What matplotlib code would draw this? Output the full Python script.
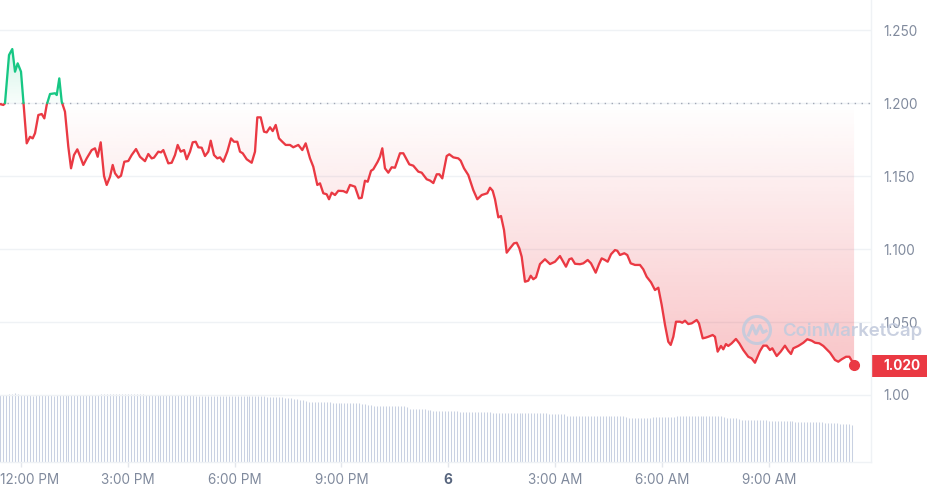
import numpy as np
import matplotlib
matplotlib.use('Agg')
import matplotlib.pyplot as plt
from matplotlib.path import Path
from matplotlib.patches import Rectangle, Circle
from matplotlib.lines import Line2D
import matplotlib.transforms as mtransforms
from matplotlib.colors import to_rgb

plt.rcParams['font.family'] = ['Inter', 'DejaVu Sans']

# ---------------- data ----------------
# minutes relative to 12:00 PM
MINUTES = np.array([
    -35.4, -29.8, -27.0, -20.2, -14.7, -10.1, -5.6, 0.0, 9.6, 15.2,
    19.7, 23.6, 29.2, 34.9, 39.3, 43.3, 48.9, 57.3, 60.2, 64.5,
    68.6, 74.1, 79.7, 84.3, 89.3, 94.9, 99.4, 105.0, 110.7, 119.1,
    124.7, 129.2, 134.3, 139.9, 144.4, 150.0, 154.5, 158.4, 164.0, 168.5,
    174.1, 180.8, 186.5, 193.8, 200.5, 208.9, 214.5, 220.2, 224.1, 231.4,
    235.9, 239.8, 248.2, 253.9, 259.5, 264.0, 269.1, 274.7, 279.2, 284.8,
    289.3, 294.4, 298.8, 304.5, 310.0, 315.6, 319.7, 325.2, 330.8, 335.3,
    340.9, 347.6, 353.9, 358.9, 364.5, 369.0, 373.6, 380.3, 388.7, 394.3,
    398.2, 403.9, 409.5, 414.0, 419.6, 424.1, 429.2, 434.7, 440.3, 446.0,
    453.3, 458.8, 467.3, 474.0, 479.7, 487.0, 492.5, 499.3, 503.8, 509.4,
    515.1, 519.0, 523.5, 529.1, 534.7, 543.1, 548.8, 554.4, 562.8, 569.5,
    574.1, 579.6, 584.2, 589.8, 593.6, 601.0, 604.9, 608.8, 613.3, 618.9,
    624.6, 630.2, 638.6, 644.2, 654.3, 661.0, 669.5, 675.2, 683.6, 689.2,
    694.8, 700.5, 704.9, 709.9, 717.3, 721.7, 728.5, 736.9, 740.9, 746.5,
    753.7, 762.1, 768.9, 776.3, 781.8, 785.7, 790.3, 794.8, 798.7, 804.3,
    808.8, 813.9, 818.4, 824.0, 830.7, 835.3, 839.7, 843.7, 849.2, 854.8,
    858.9, 863.2, 867.8, 874.5, 882.9, 891.4, 899.8, 908.2, 918.3, 923.9,
    927.9, 933.5, 941.9, 947.5, 954.9, 960.5, 968.4, 974.0, 978.5, 984.0,
    988.6, 994.2, 1000.9, 1004.8, 1009.3, 1016.6, 1021.6, 1027.4, 1034.6, 1043.0,
    1048.6, 1054.3, 1061.6, 1068.3, 1073.9, 1079.6, 1085.2, 1090.7, 1094.8, 1099.2,
    1103.7, 1110.4, 1114.3, 1118.9, 1124.4, 1130.2, 1138.6, 1142.4, 1148.7, 1153.7,
    1158.1, 1165.5, 1169.4, 1173.9, 1179.5, 1183.4, 1187.9, 1191.8, 1197.5, 1204.7,
    1210.4, 1217.1, 1225.5, 1231.2, 1236.8, 1245.2, 1250.8, 1256.5, 1262.1, 1266.0,
    1273.4, 1280.1, 1287.3, 1292.9, 1297.5, 1301.4, 1309.8, 1318.3, 1325.0, 1332.4,
    1338.0, 1345.2, 1352.0, 1357.7, 1363.2, 1371.6, 1377.2, 1383.0, 1390.2, 1395.8,
    1399.9, 1403.8,
])

PRICES = np.array([
    1.1993, 1.1987, 1.1998, 1.2329, 1.2370, 1.2215, 1.2272, 1.2215, 1.1724, 1.1769,
    1.1758, 1.1793, 1.1918, 1.1925, 1.1895, 1.1987, 1.2062, 1.2067, 1.2055, 1.2169,
    1.2009, 1.1941, 1.1701, 1.1553, 1.1644, 1.1683, 1.1637, 1.1576, 1.1621, 1.1678,
    1.1690, 1.1632, 1.1731, 1.1500, 1.1439, 1.1495, 1.1576, 1.1519, 1.1489, 1.1502,
    1.1598, 1.1603, 1.1644, 1.1685, 1.1632, 1.1602, 1.1651, 1.1621, 1.1626, 1.1667,
    1.1662, 1.1678, 1.1587, 1.1591, 1.1644, 1.1713, 1.1667, 1.1678, 1.1615, 1.1667,
    1.1731, 1.1735, 1.1697, 1.1694, 1.1637, 1.1667, 1.1742, 1.1644, 1.1621, 1.1628,
    1.1598, 1.1667, 1.1758, 1.1735, 1.1735, 1.1667, 1.1656, 1.1615, 1.1591, 1.1667,
    1.1902, 1.1902, 1.1804, 1.1799, 1.1834, 1.1808, 1.1850, 1.1758, 1.1735, 1.1713,
    1.1713, 1.1697, 1.1713, 1.1678, 1.1724, 1.1621, 1.1564, 1.1439, 1.1450, 1.1382,
    1.1375, 1.1341, 1.1386, 1.1370, 1.1399, 1.1397, 1.1386, 1.1439, 1.1427, 1.1347,
    1.1351, 1.1468, 1.1461, 1.1536, 1.1546, 1.1598, 1.1632, 1.1690, 1.1553, 1.1523,
    1.1560, 1.1557, 1.1656, 1.1656, 1.1580, 1.1571, 1.1530, 1.1523, 1.1478, 1.1469,
    1.1452, 1.1512, 1.1512, 1.1484, 1.1637, 1.1649, 1.1628, 1.1621, 1.1605, 1.1553,
    1.1507, 1.1404, 1.1341, 1.1370, 1.1377, 1.1382, 1.1420, 1.1399, 1.1341, 1.1217,
    1.1226, 1.1130, 1.0975, 1.1005, 1.1039, 1.1043, 1.1005, 1.0947, 1.0776, 1.0783,
    1.0817, 1.0793, 1.0806, 1.0897, 1.0930, 1.0897, 1.0913, 1.0952, 1.0879, 1.0930,
    1.0936, 1.0899, 1.0896, 1.0902, 1.0925, 1.0902, 1.0838, 1.0897, 1.0936, 1.0925,
    1.0913, 1.0964, 1.0993, 1.0988, 1.0959, 1.0971, 1.0959, 1.0902, 1.0891, 1.0891,
    1.0861, 1.0810, 1.0772, 1.0719, 1.0735, 1.0617, 1.0480, 1.0365, 1.0343, 1.0399,
    1.0502, 1.0502, 1.0495, 1.0509, 1.0486, 1.0491, 1.0514, 1.0491, 1.0388, 1.0393,
    1.0399, 1.0411, 1.0399, 1.0297, 1.0336, 1.0313, 1.0349, 1.0336, 1.0354, 1.0384,
    1.0354, 1.0308, 1.0262, 1.0251, 1.0221, 1.0301, 1.0338, 1.0338, 1.0308, 1.0320,
    1.0267, 1.0297, 1.0338, 1.0303, 1.0281, 1.0320, 1.0336, 1.0358, 1.0382, 1.0372,
    1.0358, 1.0354, 1.0336, 1.0313, 1.0290, 1.0240, 1.0228, 1.0245, 1.0262, 1.0262,
    1.0235, 1.0206,
])

BASELINE = 1.200          # opening price (dotted reference line)
LAST_LABEL = '1.020'

# volume bars: one every 5 minutes starting at 11:25 AM (millions)
VOL_START_MIN = -35
VOL_STEP_MIN = 5
VOLUME_M = [
    30.2, 30.2, 30.3, 30.4, 30.8, 30.9, 30.7,
    30.1, 30.0, 30.0, 30.0, 29.9, 30.0, 30.0, 30.0, 30.0, 30.0, 30.0, 29.9, 30.0, 30.0,
    30.0, 30.0, 30.0, 30.0, 30.0, 30.0, 30.0, 30.0, 30.0, 30.0, 30.1, 30.2, 30.3,
    30.5, 30.5, 30.5, 30.5, 30.5, 30.5, 30.5, 30.5, 30.5, 30.5, 30.5, 30.5, 30.4, 30.4, 30.4, 30.3,
    30.0, 30.0, 30.0, 30.0, 30.0, 30.0, 30.0, 30.0, 30.0, 30.0, 30.0, 30.0, 30.0, 30.0, 30.0, 30.0, 29.9, 29.9,
    29.7, 29.7, 29.7, 29.7, 29.7, 29.7, 29.7, 29.7, 29.7, 29.7, 29.7, 29.7, 29.7, 29.7, 29.7, 29.7, 29.7, 29.7,
    29.7, 29.7, 29.6, 29.6,
    29.4, 29.4, 29.4, 29.4, 29.4, 29.3,
    29.0, 28.8, 28.6, 28.4, 28.2, 28.0, 27.7, 27.4,
    27.0, 26.9, 26.9, 26.9, 26.9, 26.9, 26.9, 26.8,
    26.4, 26.4, 26.4, 26.4, 26.4, 26.4, 26.4, 26.4, 26.4, 26.4, 26.3, 26.2,
    25.6, 25.5, 25.4, 25.4, 25.4, 25.3, 25.3, 25.3, 25.3, 25.3, 25.2, 25.2, 25.0, 24.6,
    24.0, 23.8, 23.7, 23.7, 23.7, 23.7, 23.6, 23.4,
    23.1, 23.0, 23.0, 23.0, 23.0, 23.0, 23.0, 22.9, 22.8,
    22.5, 22.4, 22.4, 22.4, 22.4, 22.4, 22.4, 22.4, 22.4, 22.4, 22.3, 22.2,
    21.9, 21.9, 21.9, 21.9, 21.9, 21.9, 21.9, 21.9, 21.9, 21.9, 21.9, 21.9, 21.9, 21.9, 21.9, 21.9,
    21.9, 21.9, 21.8, 21.7,
    21.5, 21.5, 21.5, 21.4,
    20.9, 20.8, 20.8, 20.8, 20.8, 20.8, 20.8, 20.8, 20.8, 20.8, 20.8, 20.8, 20.8, 20.8, 20.8, 20.8,
    20.8, 20.8, 20.7, 20.6, 20.4,
    19.9, 19.7, 19.7, 19.7, 19.7, 19.7, 19.7, 19.8,
    20.1, 20.1, 20.1, 20.1, 20.1, 20.1, 20.2, 20.4,
    20.7, 20.7, 20.7, 20.7, 20.7, 20.7, 20.7, 20.7, 20.7, 20.7, 20.7, 20.7, 20.7, 20.7, 20.6, 20.5, 20.3,
    19.9, 19.7, 19.7, 19.7, 19.5,
    19.0, 18.9, 18.9, 18.9, 18.9, 18.9, 18.9, 18.9, 18.8,
    18.6, 18.6, 18.6, 18.6, 18.6, 18.6, 18.6, 18.5, 18.4,
    18.2, 18.1, 18.1, 18.1, 18.1, 18.1, 18.1, 18.1, 18.0, 17.9,
    17.7, 17.7, 17.7, 17.7, 17.6,
    17.2, 17.1, 17.0, 16.9, 16.8,
]

Y_TICKS = [1.00, 1.05, 1.10, 1.15, 1.20, 1.25]
Y_TICK_LABELS = ['1.00', '1.050', '1.100', '1.150', '1.200', '1.250']
X_TICKS = [0, 180, 360, 540, 720, 900, 1080, 1260]
X_TICK_LABELS = ['12:00 PM', '3:00 PM', '6:00 PM', '9:00 PM', '6', '3:00 AM', '6:00 AM', '9:00 AM']

RED = '#ea3943'
GREEN = '#16c784'
LABEL_GRAY = '#808a9d'
GRID = '#eff2f5'

# ---------------- figure ----------------
W, H = 928, 495
fig = plt.figure(figsize=(W / 100, H / 100), dpi=100)
ax = fig.add_axes([0, 33 / H, 871 / W, 462 / H])
ax2 = ax.twinx()

# volume (thin 1px bars)
vol_t = VOL_START_MIN + VOL_STEP_MIN * np.arange(len(VOLUME_M))
ax2.vlines(vol_t, 0, VOLUME_M, colors='#c9d1e2', linewidth=0.75, snap=True)
ax2.set_ylim(0, 208)
ax2.axis('off')
ax.set_zorder(ax2.get_zorder() + 1)
ax.patch.set_visible(False)

# split series at baseline crossings
t_list = [MINUTES[0]]
p_list = [PRICES[0]]
for i in range(1, len(MINUTES)):
    p0, p1 = PRICES[i - 1], PRICES[i]
    if (p0 - BASELINE) * (p1 - BASELINE) < 0:
        f = (BASELINE - p0) / (p1 - p0)
        t_list.append(MINUTES[i - 1] + f * (MINUTES[i] - MINUTES[i - 1]))
        p_list.append(BASELINE)
    t_list.append(MINUTES[i])
    p_list.append(PRICES[i])
tt = np.array(t_list)
pp = np.array(p_list)


def gradient_fill(mask, color, y_lo, y_hi, a_lo, a_hi):
    coll = ax.fill_between(tt, pp, BASELINE, where=mask, interpolate=True,
                           facecolor='none', edgecolor='none')
    path = Path.make_compound_path(*coll.get_paths())
    n = 256
    img = np.zeros((n, 1, 4))
    img[..., :3] = to_rgb(color)
    img[:, 0, 3] = np.linspace(a_lo, a_hi, n)
    im = ax.imshow(img, extent=[tt[0], tt[-1], y_lo, y_hi], origin='lower',
                   aspect='auto', zorder=1, interpolation='bilinear')
    im.set_clip_path(path, transform=ax.transData)


gradient_fill(pp <= BASELINE, RED, 1.015, BASELINE, 0.30, 0.0)
gradient_fill(pp >= BASELINE, GREEN, BASELINE, 1.24, 0.03, 0.20)

# baseline dotted line
ax.axhline(BASELINE, color='#a1a8b6', lw=1.0, ls=(0, (1, 4)), zorder=2)

# price line
up = np.where(pp >= BASELINE, pp, np.nan)
dn = np.where(pp <= BASELINE, pp, np.nan)
ax.plot(tt, dn, color=RED, lw=1.65, zorder=4, solid_joinstyle='round', solid_capstyle='round')
ax.plot(tt, up, color=GREEN, lw=1.65, zorder=4, solid_joinstyle='round', solid_capstyle='round')
ax.plot(MINUTES[-1], PRICES[-1], 'o', color=RED, ms=7, zorder=5)

# axes styling
ax.set_xlim(-35.4, 1432.3)
ax.set_ylim(0.9541, 1.2706)
ax.set_yticks(Y_TICKS)
ax.set_yticklabels(Y_TICK_LABELS)
ax.yaxis.tick_right()
ax.yaxis.grid(True, color=GRID, lw=1.0, zorder=0)
ax.set_axisbelow(True)
ax.set_xticks(X_TICKS)
ax.set_xticklabels(X_TICK_LABELS)
for s in ['top', 'left']:
    ax.spines[s].set_visible(False)
for s in ['right', 'bottom']:
    ax.spines[s].set_color(GRID)
    ax.spines[s].set_linewidth(1.0)
ax.tick_params(axis='y', length=0, pad=8.6, labelsize=9.75, labelcolor=LABEL_GRAY)
ax.tick_params(axis='x', length=3.6, width=1, color='#e3e6ec', pad=4.5,
               labelsize=9.75, labelcolor=LABEL_GRAY)
xlabels = ax.get_xticklabels()
for lab in xlabels:
    if lab.get_text() == '6':
        lab.set_fontweight('bold')
        lab.set_color('#58667e')
first = xlabels[0]
first.set_horizontalalignment('left')
first.set_transform(first.get_transform() +
                    mtransforms.ScaledTranslation(-21 / 100, 0, fig.dpi_scale_trans))

# current price box
btrans = mtransforms.blended_transform_factory(fig.transFigure, ax.transData)
last_val = float(LAST_LABEL)
box_h = 22 * (1.2706 - 0.9541) / 462
fig.add_artist(Rectangle((871 / W, last_val - box_h / 2), 57 / W, box_h,
                         transform=btrans, facecolor=RED, edgecolor='none', clip_on=False))
fig.text(883 / W, last_val, LAST_LABEL, transform=btrans, color='white',
         fontsize=9.75, fontweight='bold', ha='left', va='center')

# watermark
wm = '#c3cbdd'
dpt = fig.dpi_scale_trans
ax.add_artist(Circle((7.57, 1.65), 0.135, transform=dpt, fill=False,
                     edgecolor=wm, lw=2.2, alpha=0.9, zorder=3))
ax.add_artist(Line2D([7.485, 7.525, 7.56, 7.60, 7.63, 7.66],
                     [1.60, 1.695, 1.61, 1.695, 1.625, 1.64],
                     transform=dpt, color=wm, lw=2.2, alpha=0.9, zorder=3,
                     solid_joinstyle='round'))
ax.text(7.82, 1.64, 'CoinMarketCap', transform=dpt, color=wm, alpha=0.9,
        fontsize=13.4, fontweight='semibold', ha='left', va='center', zorder=3)

fig.savefig('out.png', dpi=100)
